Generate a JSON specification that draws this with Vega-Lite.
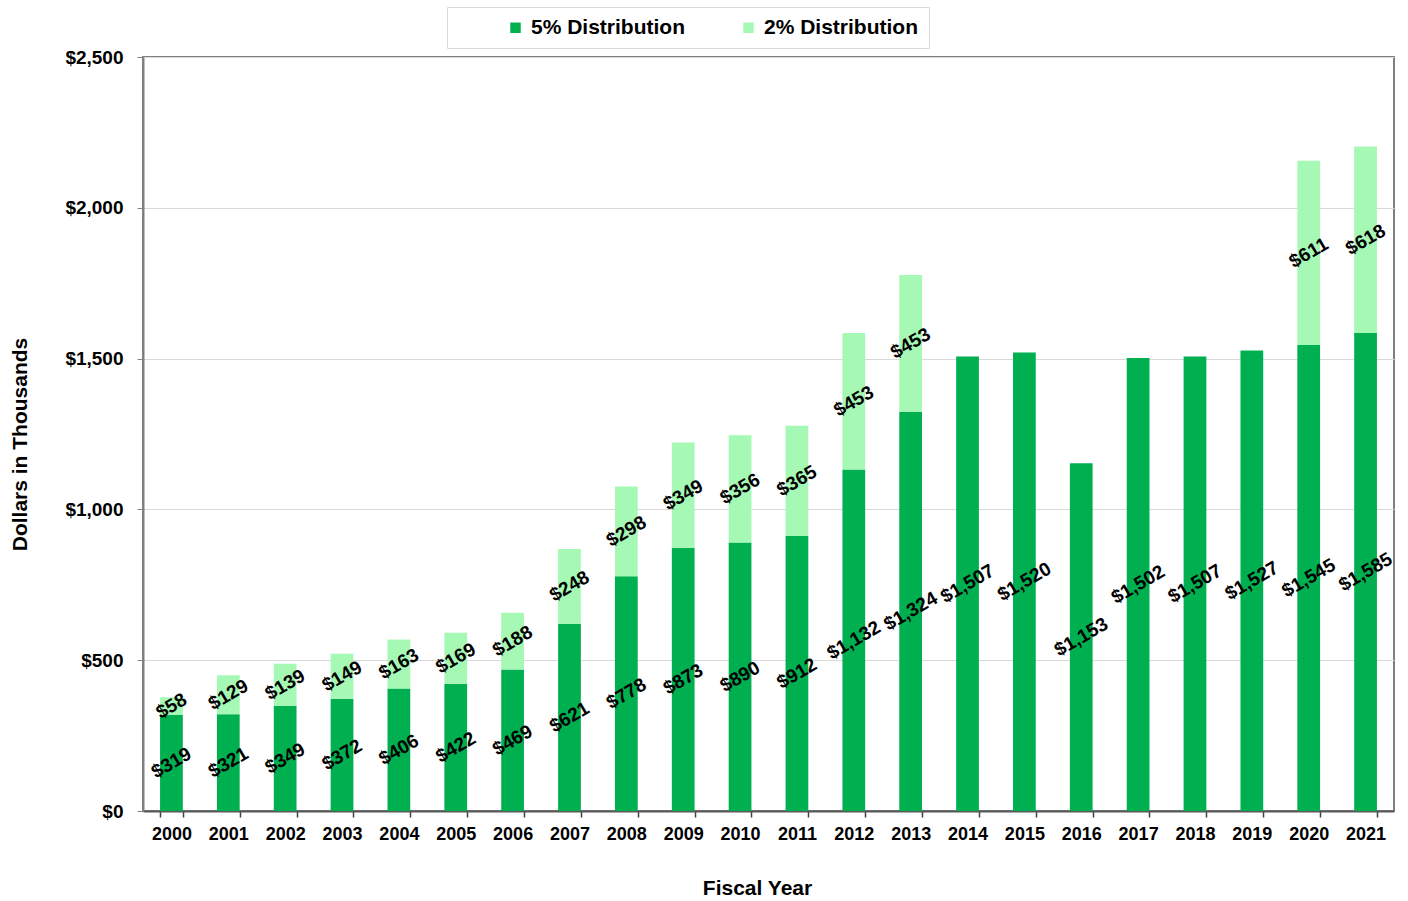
{
  "$schema": "https://vega.github.io/schema/vega-lite/v6.json",
  "width": 1251,
  "height": 754,
  "autosize": {"type": "none"},
  "padding": {"left": 143, "top": 57, "right": 14, "bottom": 90},
  "background": "white",
  "config": {
    "font": "Liberation Sans",
    "view": {"stroke": "#808080", "strokeWidth": 2},
    "axis": {"labelFont": "Liberation Sans", "titleFont": "Liberation Sans"}
  },
  "data": {
    "values": [
      {"year": "2000", "series": "5% Distribution", "value": 319},
      {"year": "2001", "series": "5% Distribution", "value": 321},
      {"year": "2002", "series": "5% Distribution", "value": 349},
      {"year": "2003", "series": "5% Distribution", "value": 372},
      {"year": "2004", "series": "5% Distribution", "value": 406},
      {"year": "2005", "series": "5% Distribution", "value": 422},
      {"year": "2006", "series": "5% Distribution", "value": 469},
      {"year": "2007", "series": "5% Distribution", "value": 621},
      {"year": "2008", "series": "5% Distribution", "value": 778},
      {"year": "2009", "series": "5% Distribution", "value": 873},
      {"year": "2010", "series": "5% Distribution", "value": 890},
      {"year": "2011", "series": "5% Distribution", "value": 912},
      {"year": "2012", "series": "5% Distribution", "value": 1132},
      {"year": "2013", "series": "5% Distribution", "value": 1324},
      {"year": "2014", "series": "5% Distribution", "value": 1507},
      {"year": "2015", "series": "5% Distribution", "value": 1520},
      {"year": "2016", "series": "5% Distribution", "value": 1153},
      {"year": "2017", "series": "5% Distribution", "value": 1502},
      {"year": "2018", "series": "5% Distribution", "value": 1507},
      {"year": "2019", "series": "5% Distribution", "value": 1527},
      {"year": "2020", "series": "5% Distribution", "value": 1545},
      {"year": "2021", "series": "5% Distribution", "value": 1585},
      {"year": "2000", "series": "2% Distribution", "value": 58},
      {"year": "2001", "series": "2% Distribution", "value": 129},
      {"year": "2002", "series": "2% Distribution", "value": 139},
      {"year": "2003", "series": "2% Distribution", "value": 149},
      {"year": "2004", "series": "2% Distribution", "value": 163},
      {"year": "2005", "series": "2% Distribution", "value": 169},
      {"year": "2006", "series": "2% Distribution", "value": 188},
      {"year": "2007", "series": "2% Distribution", "value": 248},
      {"year": "2008", "series": "2% Distribution", "value": 298},
      {"year": "2009", "series": "2% Distribution", "value": 349},
      {"year": "2010", "series": "2% Distribution", "value": 356},
      {"year": "2011", "series": "2% Distribution", "value": 365},
      {"year": "2012", "series": "2% Distribution", "value": 453},
      {"year": "2013", "series": "2% Distribution", "value": 453},
      {"year": "2020", "series": "2% Distribution", "value": 611},
      {"year": "2021", "series": "2% Distribution", "value": 618}
    ]
  },
  "transform": [
    {"calculate": "datum.series == '5% Distribution' ? 0 : 1", "as": "rank"},
    {"stack": "value", "groupby": ["year"], "sort": [{"field": "rank", "order": "ascending"}], "as": ["v0", "v1"]},
    {"calculate": "(datum.v0 + datum.v1) / 2", "as": "vmid"}
  ],
  "encoding": {
    "x": {
      "field": "year",
      "type": "ordinal",
      "scale": {"paddingInner": 0.6, "paddingOuter": 0.3},
      "axis": {
        "title": "Fiscal Year",
        "labelAngle": 0,
        "labelFontSize": 18,
        "labelFontWeight": "bold",
        "labelColor": "#000000",
        "labelPadding": 8,
        "tickBand": "extent",
        "tickSize": 6,
        "tickColor": "#404040",
        "tickWidth": 1.5,
        "domainColor": "#595959",
        "domainWidth": 2,
        "titleFontSize": 21,
        "titleFontWeight": "bold",
        "titleColor": "#000000",
        "titleX": 614,
        "titleY": 77,
        "titleAlign": "center",
        "titleBaseline": "middle"
      }
    }
  },
  "layer": [
    {
      "mark": {"type": "bar"},
      "encoding": {
        "y": {
          "field": "v0",
          "type": "quantitative",
          "scale": {"domain": [0, 2500], "nice": false},
          "axis": {
            "title": "Dollars in Thousands",
            "values": [0, 500, 1000, 1500, 2000, 2500],
            "format": "$,.0f",
            "labelFontSize": 19,
            "labelFontWeight": "bold",
            "labelColor": "#000000",
            "labelPadding": 14,
            "tickSize": 6,
            "tickColor": "#808080",
            "domainColor": "#808080",
            "domainWidth": 2,
            "gridColor": "#D9D9D9",
            "gridWidth": 1,
            "titleFontSize": 21,
            "titleFontWeight": "bold",
            "titleColor": "#000000",
            "titleX": -123,
            "titleY": 387,
            "titleAlign": "center",
            "titleBaseline": "middle",
            "titleAngle": -90
          }
        },
        "y2": {"field": "v1"},
        "color": {
          "field": "series",
          "type": "nominal",
          "scale": {"domain": ["5% Distribution", "2% Distribution"], "range": ["#00B050", "#A5F9B5"]},
          "legend": {
            "title": "\u00a0\u00a0\u00a0\u00a0\u00a0\u00a0",
            "titleOrient": "right",
            "titlePadding": 0,
            "titleFontSize": 21,
            "orient": "none",
            "legendX": 304,
            "legendY": -50,
            "direction": "horizontal",
            "fillColor": "white",
            "strokeColor": "#D9D9D9",
            "padding": 10,
            "symbolType": "square",
            "symbolSize": 110,
            "symbolOffset": 48,
            "symbolStrokeWidth": 0,
            "labelFontSize": 21,
            "labelFontWeight": "bold",
            "labelColor": "#000000",
            "labelOffset": 5,
            "columnPadding": 4,
            "labelLimit": 400
          }
        }
      }
    },
    {
      "mark": {"type": "text", "angle": 330, "align": "center", "baseline": "middle", "fontSize": 19, "fontWeight": "bold", "color": "#000000"},
      "encoding": {
        "y": {"field": "vmid", "type": "quantitative"},
        "text": {"field": "value", "type": "quantitative", "format": "$,.0f"}
      }
    }
  ]
}
